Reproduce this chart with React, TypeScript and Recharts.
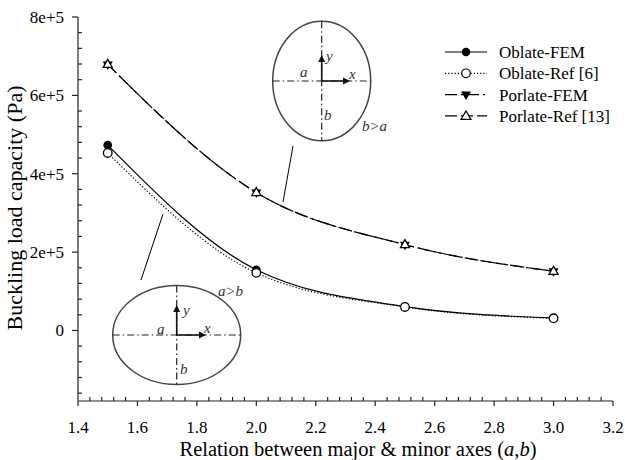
import React from 'react';
import { LineChart, Line, XAxis, YAxis, Legend } from 'recharts';

// ratio a/b (or b/a) and buckling loads in Pa
const ratios = [1.5, 2.0, 2.5, 3.0];
const oblateFem = [473000, 155000, 61000, 32000];
const oblateRef = [453000, 147000, 60000, 31000];
const porlateFem = [679000, 352000, 219000, 151000];
const porlateRef = [679000, 352000, 219000, 151000];

// axis ticks: major every 0.2 / 2e5, minor every 0.04 / 4e4
const xTicks: number[] = [];
for (let i = 0; i <= 45; i++) xTicks.push(+(1.4 + i * 0.04).toFixed(2));
const yTicks: number[] = [];
for (let v = -160000; v <= 800000; v += 40000) yTicks.push(v);

const rows = ratios.map((r, i) => ({
  ratio: r,
  oblateFem: oblateFem[i],
  oblateRef: oblateRef[i],
  porlateFem: porlateFem[i],
  porlateRef: porlateRef[i],
}));

const FONT = '"Liberation Serif", "Times New Roman", serif';
const AXIS = '#222';

const isMajorX = (v: number) => Math.abs(v * 5 - Math.round(v * 5)) < 1e-6;

// tickSize/tickMargin are 0, so p.x / p.y sit on the axis line
const XTick = (p: any) => {
  const v = Number(p.payload.value);
  if (!isMajorX(v)) {
    return <path d={`M${p.x},${p.y}V${p.y - 4}`} stroke={AXIS} strokeWidth={1.2} fill="none" />;
  }
  return (
    <g>
      <path d={`M${p.x},${p.y}V${p.y + 5}`} stroke={AXIS} strokeWidth={1.2} fill="none" />
      <text x={p.x} y={p.y + 32} textAnchor="middle" fontSize={17} fontFamily={FONT} fill="#000">
        {v.toFixed(1)}
      </text>
    </g>
  );
};

const YTick = (p: any) => {
  const v = Number(p.payload.value);
  if (v % 200000 !== 0) {
    return <path d={`M${p.x},${p.y}H${p.x + 4}`} stroke={AXIS} strokeWidth={1.2} fill="none" />;
  }
  return (
    <g>
      <path d={`M${p.x - 6},${p.y}H${p.x}`} stroke={AXIS} strokeWidth={1.2} fill="none" />
      <text x={p.x - 14} y={p.y + 6} textAnchor="end" fontSize={17} fontFamily={FONT} fill="#000">
        {v === 0 ? '0' : `${v / 100000}e+5`}
      </text>
    </g>
  );
};

const filledCircle = (p: any) =>
  p.cx == null ? <g key={p.index} /> : <circle key={p.index} cx={p.cx} cy={p.cy} r={4.3} fill="#000" />;
const openCircle = (p: any) =>
  p.cx == null ? <g key={p.index} /> : (
    <circle key={p.index} cx={p.cx} cy={p.cy} r={4.3} fill="#fff" stroke="#000" strokeWidth={1.3} />
  );
const downTri = (p: any) =>
  p.cx == null ? <g key={p.index} /> : (
    <polygon key={p.index} points={`${p.cx - 5},${p.cy - 3} ${p.cx + 5},${p.cy - 3} ${p.cx},${p.cy + 5.5}`} fill="#000" />
  );
const upTri = (p: any) =>
  p.cx == null ? <g key={p.index} /> : (
    <polygon key={p.index} points={`${p.cx - 4.5},${p.cy + 3} ${p.cx + 4.5},${p.cy + 3} ${p.cx},${p.cy - 5}`} fill="#fff" stroke="#000" strokeWidth={1.3} />
  );

const legendItems = [
  { name: 'Oblate-FEM', dash: undefined, mark: 'filled' },
  { name: 'Oblate-Ref [6]', dash: '1.2 2', mark: 'open' },
  { name: 'Porlate-FEM', dash: '12 4 2 4', mark: 'down' },
  { name: 'Porlate-Ref [13]', dash: '12 4', mark: 'up' },
];

const LegendBox = () => (
  <svg width={185} height={90}>
    {legendItems.map((it, i) => {
      const y = 12 + i * 21.3;
      const mx = 26;
      return (
        <g key={it.name}>
          <line x1={5} x2={47} y1={y} y2={y} stroke="#000" strokeWidth={1.2} strokeDasharray={it.dash} />
          {it.mark === 'filled' && <circle cx={mx} cy={y} r={4.3} fill="#000" />}
          {it.mark === 'open' && <circle cx={mx} cy={y} r={4.3} fill="#fff" stroke="#000" strokeWidth={1.2} />}
          {it.mark === 'down' && <polygon points={`${mx - 5},${y - 3} ${mx + 5},${y - 3} ${mx},${y + 5.5}`} fill="#000" />}
          {it.mark === 'up' && <polygon points={`${mx - 5},${y + 3.5} ${mx + 5},${y + 3.5} ${mx},${y - 5}`} fill="#fff" stroke="#000" strokeWidth={1.2} />}
          <text x={59} y={y + 6} fontSize={17} fontFamily={FONT} fill="#000">{it.name}</text>
        </g>
      );
    })}
  </svg>
);

const Arrow = ({ x1, y1, x2, y2 }: { x1: number; y1: number; x2: number; y2: number }) => {
  const ang = Math.atan2(y2 - y1, x2 - x1);
  const L = 7, W = 3.5;
  const bx = x2 - L * Math.cos(ang), by = y2 - L * Math.sin(ang);
  const px = -Math.sin(ang) * W, py = Math.cos(ang) * W;
  return (
    <g>
      <line x1={x1} y1={y1} x2={bx} y2={by} stroke="#111" strokeWidth={1.6} />
      <polygon points={`${x2},${y2} ${bx + px},${by + py} ${bx - px},${by - py}`} fill="#111" />
    </g>
  );
};

const Inset = ({ cx, cy, rx, ry, ay, ax, labels }: any) => (
  <g>
    <ellipse cx={cx} cy={cy} rx={rx} ry={ry} fill="none" stroke="#444" strokeWidth={1.5} />
    <line x1={cx - rx} x2={cx + rx} y1={cy} y2={cy} stroke="#222" strokeWidth={1.2} strokeDasharray="7 3 1.5 3" />
    <line x1={cx} x2={cx} y1={cy - ry} y2={cy + ry} stroke="#222" strokeWidth={1.2} strokeDasharray="7 3 1.5 3" />
    <Arrow x1={cx} y1={cy} x2={cx} y2={ay} />
    <Arrow x1={cx} y1={cy} x2={ax} y2={cy} />
    {labels.map((l: any) => (
      <text key={l.t} x={l.x} y={l.y} fontSize={15} fontStyle="italic" fontFamily={FONT} fill="#333">{l.t}</text>
    ))}
  </g>
);

export default function App() {
  return (
    <div style={{ position: 'absolute', left: 0, top: 0, width: 625, height: 460, background: '#fff' }}>
      <LineChart width={625} height={460} data={rows} margin={{ top: 17, right: 12, bottom: 0, left: 0 }}>
        <XAxis
          dataKey="ratio"
          type="number"
          domain={[1.4, 3.2]}
          ticks={xTicks}
          interval={0}
          height={59}
          tickSize={0}
          tickMargin={0}
          tick={<XTick />}
          axisLine={{ stroke: AXIS, strokeWidth: 1.2 }}
          tickLine={false}
          allowDataOverflow
        />
        <YAxis
          type="number"
          domain={[-180000, 800000]}
          ticks={yTicks}
          interval={0}
          width={78}
          tickSize={0}
          tickMargin={0}
          tick={<YTick />}
          axisLine={{ stroke: AXIS, strokeWidth: 1.2 }}
          tickLine={false}
          allowDataOverflow
        />
        <Legend
          layout="horizontal"
          verticalAlign="middle"
          align="center"
          content={() => <LegendBox />}
          wrapperStyle={{ left: 440, top: 40, width: 185, height: 90 }}
        />
        <Line dataKey="porlateFem" type="monotone" stroke="#000" strokeWidth={1.2} strokeDasharray="12 4 2 4" dot={downTri} activeDot={false} isAnimationActive={false} />
        <Line dataKey="porlateRef" type="monotone" stroke="#000" strokeWidth={1.2} strokeDasharray="12 4" dot={upTri} activeDot={false} isAnimationActive={false} />
        <Line dataKey="oblateFem" type="monotone" stroke="#000" strokeWidth={1.2} dot={filledCircle} activeDot={false} isAnimationActive={false} />
        <Line dataKey="oblateRef" type="monotone" stroke="#000" strokeWidth={1.2} strokeDasharray="1.2 2" dot={openCircle} activeDot={false} isAnimationActive={false} />
      </LineChart>
      <svg width={625} height={460} style={{ position: 'absolute', left: 0, top: 0, pointerEvents: 'none' }}>
        <Inset
          cx={321.7} cy={81} rx={49} ry={59.7} ay={55} ax={350}
          labels={[
            { t: 'y', x: 326, y: 61 },
            { t: 'x', x: 349, y: 79 },
            { t: 'a', x: 300, y: 77 },
            { t: 'b', x: 324, y: 120 },
            { t: 'b>a', x: 362, y: 131 },
          ]}
        />
        <line x1={293} y1={146} x2={283} y2={202} stroke="#000" strokeWidth={1} />
        <Inset
          cx={176.7} cy={335} rx={64} ry={49.5} ay={305} ax={206}
          labels={[
            { t: 'y', x: 183, y: 315 },
            { t: 'x', x: 204, y: 333 },
            { t: 'a', x: 157, y: 334 },
            { t: 'b', x: 180, y: 374 },
            { t: 'a>b', x: 218, y: 296 },
          ]}
        />
        <line x1={141} y1={280} x2={163} y2={214} stroke="#000" strokeWidth={1} />
        <text transform="translate(22,208) rotate(-90)" textAnchor="middle" fontSize={22} fontFamily={FONT} fill="#000">
          Buckling load capacity (Pa)
        </text>
        <text x={358} y={455.5} textAnchor="middle" fontSize={20.5} fontFamily={FONT} fill="#000">
          Relation between major &amp; minor axes (<tspan fontStyle="italic">a</tspan>,<tspan fontStyle="italic">b</tspan>)
        </text>
      </svg>
    </div>
  );
}
